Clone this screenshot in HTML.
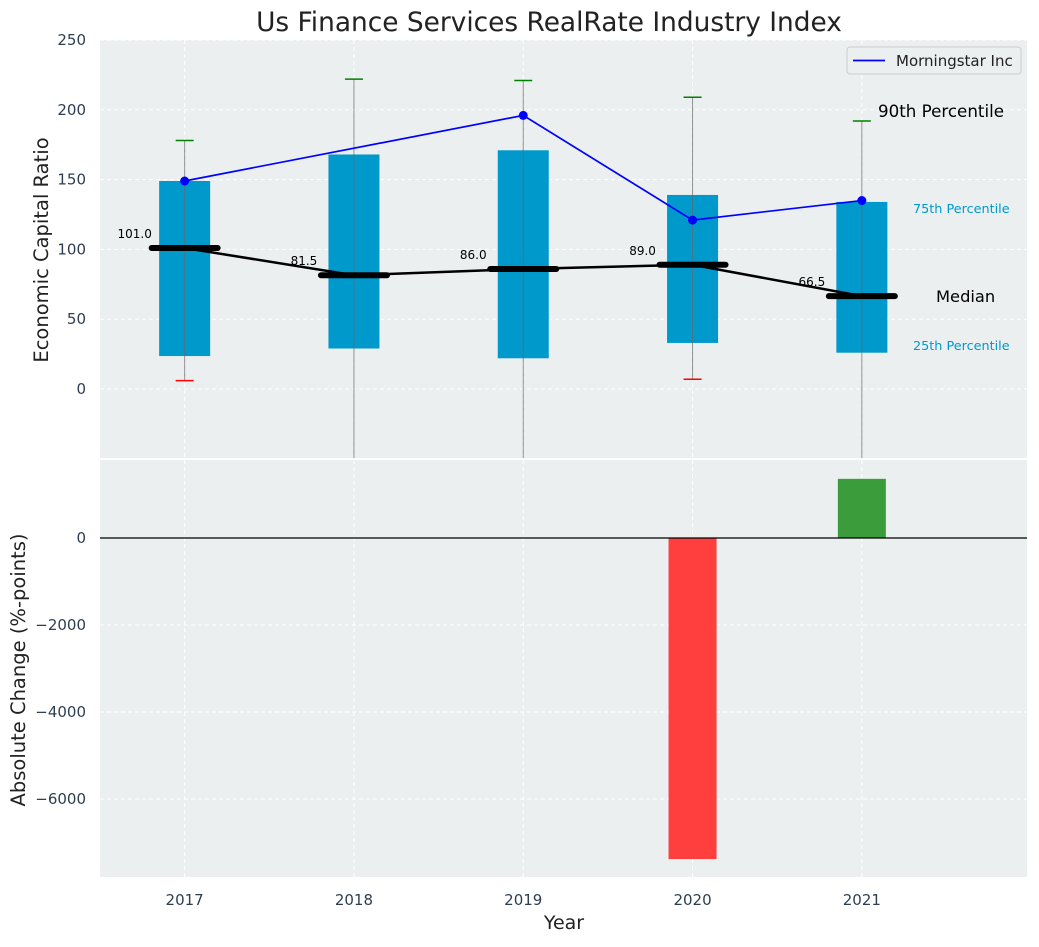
<!DOCTYPE html>
<html><head><meta charset="utf-8"><style>
body{margin:0;background:#fff;font-family:"Liberation Sans","DejaVu Sans",sans-serif}
svg text{font-family:"DejaVu Sans","Liberation Sans",sans-serif}
</style></head><body>
<svg id="c" width="1039" height="942" xmlns="http://www.w3.org/2000/svg"></svg>
<script>
const years=[2017,2018,2019,2020,2021];
const p25=[23.6,29,22,33,26];
const p75=[149,168,171,139,134];
const p90=[178,222,221,209,192];
const p10=[6,-60,-60,7,-60];
const medians=[101,81.5,86,89,66.5];
const medianLabels=["101.0","81.5","86.0","89.0","66.5"];
const company=[149,null,196,121,135];
const changes=[0,0,0,-7380,1360];
const topTicks=[0,50,100,150,200,250];
const botTicks=[0,-2000,-4000,-6000];

const NS="http://www.w3.org/2000/svg";
const svg=document.getElementById('c');
function el(t,a,txt){const e=document.createElementNS(NS,t);for(const k in a)e.setAttribute(k,a[k]);if(txt!=null)e.textContent=txt;svg.appendChild(e);return e;}
const L=100,R=1027,T1=40,B1=458,T2=460,B2=877;
const x=v=>L+(v-2016.5)*169.3;
const y1=v=>389-v*1.396;
const y2=v=>538-v*0.0435;

let e;
e=el('rect',{x:L,y:T1,width:R-L,height:B1-T1,fill:'#ebeff0'});

e=el('rect',{x:L,y:T2,width:R-L,height:B2-T2,fill:'#ebeff0'});


topTicks.forEach(t=>{
  el('line',{x1:L,x2:R,y1:y1(t),y2:y1(t),stroke:'#fff','stroke-dasharray':'4,3','stroke-width':1});
  e=el('text',{x:L-14,y:y1(t)+5,'text-anchor':'end','font-size':15,fill:'#2e3e50'},t);
  
});
botTicks.forEach(t=>{
  el('line',{x1:L,x2:R,y1:y2(t),y2:y2(t),stroke:'#fff','stroke-dasharray':'4,3','stroke-width':1});
  e=el('text',{x:L-14,y:y2(t)+5,'text-anchor':'end','font-size':15,fill:'#2e3e50'},t===0?'0':'\u2212'+Math.abs(t));
  
});
years.forEach(yr=>{
  el('line',{x1:x(yr),x2:x(yr),y1:T1,y2:B1,stroke:'#fff','stroke-dasharray':'4,3'});
  el('line',{x1:x(yr),x2:x(yr),y1:T2,y2:B2,stroke:'#fff','stroke-dasharray':'4,3'});
  e=el('text',{x:x(yr),y:905,'text-anchor':'middle','font-size':15,fill:'#2e3e50'},yr);
  
});

const clip=v=>Math.min(B1,y1(v));
years.forEach((yr,i)=>{
  const cx=x(yr);
  e=el('rect',{x:cx-25.5,y:y1(p75[i]),width:51,height:y1(p25[i])-y1(p75[i]),fill:'#0099cc'});
  
  e=el('line',{x1:cx,x2:cx,y1:y1(p90[i]),y2:clip(p10[i]),stroke:'#666','stroke-width':1,'stroke-opacity':0.7});
  
  el('line',{x1:cx-9,x2:cx+9,y1:y1(p90[i]),y2:y1(p90[i]),stroke:'green','stroke-width':1.5});
  if(y1(p10[i])<B1) el('line',{x1:cx-9,x2:cx+9,y1:y1(p10[i]),y2:y1(p10[i]),stroke:'red','stroke-width':1.5});
});
e=el('polyline',{points:years.map((yr,i)=>x(yr)+','+y1(medians[i])).join(' '),fill:'none',stroke:'#000','stroke-width':2.5});

years.forEach((yr,i)=>{
  e=el('line',{x1:x(yr)-33,x2:x(yr)+33,y1:y1(medians[i]),y2:y1(medians[i]),stroke:'#000','stroke-width':6,'stroke-linecap':'round'});
  
  e=el('text',{x:x(yr)-50,y:y1(medians[i])-10,'text-anchor':'middle','font-size':12,fill:'#000'},medianLabels[i]);
  
});
const pts=years.map((yr,i)=>company[i]==null?null:[x(yr),y1(company[i])]).filter(p=>p);
e=el('polyline',{points:pts.map(p=>p.join(',')).join(' '),fill:'none',stroke:'blue','stroke-width':1.7});

pts.forEach(p=>{e=el('circle',{cx:p[0],cy:p[1],r:4.5,fill:'blue'});});

[['90th Percentile',878,117,16.7,'#000'],['75th Percentile',913,213,12.8,'#0099cc'],['Median',936,302,16.3,'#000'],['25th Percentile',913,350,12.8,'#0099cc']].forEach(a=>{
  e=el('text',{x:a[1],y:a[2],'font-size':a[3],fill:a[4]},a[0]);
  
});

e=el('rect',{x:847,y:47,width:174,height:27,fill:'#ebeff0',stroke:'#ccc',rx:3});

el('line',{x1:853,x2:885,y1:60.5,y2:60.5,stroke:'blue','stroke-width':1.7});
e=el('text',{x:896,y:66,'font-size':15,fill:'#222'},'Morningstar Inc');


years.forEach((yr,i)=>{
  const v=changes[i]; if(v===0) return;
  e=el('rect',{x:x(yr)-24,y:Math.min(y2(0),y2(v)),width:48,height:Math.abs(y2(v)-y2(0)),fill:v<0?'#ff3e3e':'#3a9c3a'});
  
});
el('line',{x1:L,x2:R,y1:y2(0),y2:y2(0),stroke:'#000','stroke-width':1.2});

e=el('text',{x:549,y:31,'text-anchor':'middle','font-size':26.4,fill:'#222'},'Us Finance Services RealRate Industry Index');

e=el('text',{x:48,y:250,'text-anchor':'middle','font-size':19.5,fill:'#222',transform:'rotate(-90 48 250)'},'Economic Capital Ratio');

e=el('text',{x:25,y:670,'text-anchor':'middle','font-size':19.5,fill:'#222',transform:'rotate(-90 25 670)'},'Absolute Change (%-points)');

e=el('text',{x:564,y:929,'text-anchor':'middle','font-size':19,fill:'#222'},'Year');

</script>
</body></html>
